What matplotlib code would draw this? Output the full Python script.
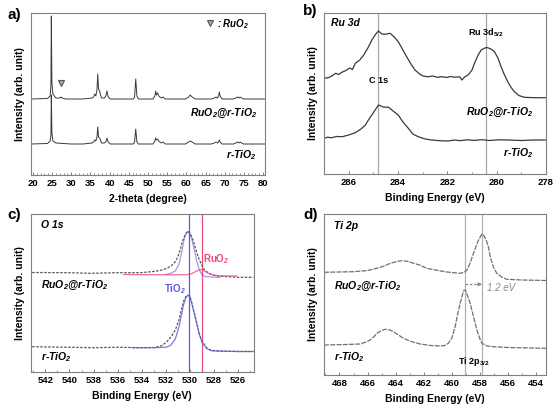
import matplotlib
matplotlib.use("Agg")
import matplotlib.pyplot as plt
from matplotlib.ticker import MultipleLocator

plt.rcParams['font.family'] = ['Liberation Sans', 'DejaVu Sans']
plt.rcParams['font.weight'] = 'bold'
plt.rcParams['mathtext.fontset'] = 'custom'
plt.rcParams['mathtext.rm'] = 'Liberation Sans:bold:italic'
plt.rcParams['mathtext.it'] = 'Liberation Sans:bold:italic'
plt.rcParams['mathtext.bf'] = 'Liberation Sans:bold'

# ---- a) XRD (2-theta, arb. intensity) ----
xrd_ru = [(19.5, 76), (23.8, 76.5), (24.5, 79), (24.7, 90), (24.8, 159), (24.95, 92), (25.2, 81),
          (26.0, 77), (27.0, 77), (27.3, 78), (27.6, 77), (28.5, 76), (33.0, 76), (35.4, 77),
          (35.8, 78), (36.1, 81), (36.4, 79), (36.7, 85), (36.9, 101), (37.1, 86), (37.4, 84),
          (37.6, 80), (37.9, 77), (38.6, 77), (39.0, 79), (39.3, 84), (39.6, 78), (40.2, 76),
          (46.2, 76), (46.5, 78), (46.8, 96), (47.1, 79), (47.5, 76), (51.3, 76), (51.8, 79),
          (52.0, 84), (52.2, 80), (52.5, 82), (52.8, 79), (53.1, 78), (53.5, 77), (53.9, 78),
          (54.5, 76), (59.8, 76), (60.6, 78), (61.0, 80), (61.5, 78), (62.3, 76), (66.5, 76),
          (67.3, 77), (67.7, 78), (68.1, 77), (68.4, 79), (68.6, 83), (68.8, 79), (69.3, 76),
          (72.3, 76), (72.9, 77), (73.3, 78), (73.7, 77), (74.0, 78), (74.4, 77), (74.9, 76),
          (80.5, 76)]
xrd_ti = [(19.5, 31), (23.8, 31.5), (24.5, 34), (24.7, 40), (24.8, 80), (24.95, 42), (25.2, 34),
          (26.0, 32), (30.0, 31), (33.0, 31), (35.4, 32), (35.8, 33), (36.1, 35), (36.4, 34),
          (36.7, 38), (36.9, 48), (37.1, 38), (37.4, 37), (37.6, 35), (37.9, 32), (38.6, 32),
          (39.0, 33), (39.3, 37), (39.6, 33), (40.2, 31), (46.2, 31), (46.5, 33), (46.8, 46),
          (47.1, 33), (47.5, 31), (51.3, 31), (51.8, 34), (52.0, 37), (52.2, 35), (52.5, 36),
          (52.8, 34), (53.1, 33), (53.5, 32), (53.9, 33), (54.5, 31), (59.8, 31), (60.6, 33),
          (61.0, 34), (61.5, 33), (62.3, 31), (66.5, 31), (67.3, 32), (67.7, 33), (68.1, 32),
          (68.4, 33), (68.6, 35), (68.8, 33), (69.3, 31), (72.3, 31), (72.9, 32), (73.3, 33),
          (73.7, 32), (74.0, 33), (74.4, 32), (74.9, 31), (80.5, 31)]
ruo2_mark = (27.3, 92)

# ---- b) Ru 3d ----
ru3d_ru = [(287.0, 95.7), (286.8, 96.5), (286.65, 98.5), (286.53, 100.7), (286.4, 99.5), (286.3, 101.5),
           (286.13, 103.3), (285.95, 106), (285.85, 104.5), (285.73, 110.7), (285.55, 114),
           (285.39, 119), (285.2, 127), (285.06, 134), (284.9, 140), (284.79, 143), (284.65, 140),
           (284.52, 139.7), (284.32, 140.7), (284.15, 137), (283.99, 132.3), (283.8, 124),
           (283.65, 117.3), (283.45, 109), (283.31, 104), (283.1, 99.5), (282.98, 98),
           (282.8, 97.2), (282.6, 98), (282.4, 96.7), (282.24, 97.3), (282.0, 96.5), (281.9, 97.5),
           (281.7, 96.8), (281.5, 97.2), (281.41, 94), (281.3, 97), (281.16, 99), (281.0, 104),
           (280.9, 110.7), (280.75, 119), (280.63, 124), (280.45, 126.3), (280.36, 126.3),
           (280.2, 124.5), (280.09, 122.3), (279.95, 116), (279.82, 107.3), (279.7, 100),
           (279.55, 92.3), (279.4, 86), (279.28, 82.3), (279.1, 78.5), (278.88, 76.7),
           (278.5, 76.3), (278.0, 76.3)]
ru3d_ti = [(287.0, 35.7), (286.85, 36.8), (286.7, 36.2), (286.5, 37.5), (286.26, 37.3), (286.0, 39),
           (285.73, 41.3), (285.5, 45), (285.32, 49), (285.2, 54), (285.06, 59), (284.9, 65),
           (284.79, 69), (284.6, 67), (284.38, 66.7), (284.2, 63), (283.99, 59), (283.8, 52),
           (283.58, 45.7), (283.4, 40), (283.18, 37.3), (282.9, 35), (282.64, 34), (282.3, 33.3),
           (281.97, 33), (281.7, 34), (281.5, 33.3), (281.2, 34.2), (280.9, 33.6), (280.6, 34.3),
           (280.3, 33.5), (279.9, 34.2), (279.55, 34), (279.0, 33.5), (278.5, 34), (278.0, 34)]
c1s_pos = 284.8
ru3d52_pos = 280.45

# ---- c) O 1s ----
o1s_ru = [(543.1, 99.5), (540.0, 99.3), (538.25, 98.7), (536.0, 99.3), (534.1, 99.3), (533.0, 100.5),
          (532.3, 102), (531.9, 103.7), (531.5, 106.5), (531.2, 110.3), (531.0, 115), (530.8, 122),
          (530.6, 131), (530.4, 137), (530.16, 141), (530.0, 139), (529.83, 135.3), (529.6, 127),
          (529.4, 118.7), (529.2, 112), (529.0, 107), (528.8, 102.5), (528.6, 100.3),
          (528.2, 97.5), (527.76, 96), (526.0, 94.7), (524.7, 94.7)]
o1s_ru_tio2 = [(532.0, 97.5), (531.6, 98.5), (531.2, 101), (530.9, 108), (530.7, 118), (530.5, 131),
               (530.3, 139), (530.16, 140.5), (530.0, 138), (529.83, 133), (529.6, 121),
               (529.4, 110), (529.2, 102), (529.0, 97.5), (528.7, 95.5), (528.3, 95),
               (527.5, 94.7)]
o1s_ru_ruo2 = [(535.5, 97.5), (533.0, 97.3), (531.0, 97.2), (530.2, 97.3), (529.8, 98.5),
               (529.5, 100.5), (529.13, 102.5), (528.8, 101.3), (528.5, 99), (528.1, 97),
               (527.5, 96.2), (526.1, 96)]
o1s_ti = [(543.1, 25.3), (540.0, 24.7), (538.0, 24.3), (536.0, 24.7), (534.0, 24.3), (532.9, 24.5),
          (532.3, 26.5), (531.9, 30.3), (531.5, 36), (531.2, 42), (530.9, 52), (530.7, 62),
          (530.5, 71), (530.3, 76), (530.16, 76.7), (530.0, 76), (529.85, 70), (529.6, 58),
          (529.4, 48), (529.2, 38), (529.0, 31), (528.6, 24), (528.2, 21.5), (527.5, 21),
          (526.0, 20.5), (524.7, 20.5)]
o1s_ti_tio2 = [(534.8, 24.3), (533.0, 24.3), (532.0, 24.7), (531.6, 26.5), (531.2, 33), (530.9, 45),
               (530.7, 57), (530.5, 68), (530.3, 75), (530.16, 76.5), (530.0, 75.5),
               (529.85, 69.5), (529.6, 57.5), (529.4, 47.5), (529.2, 37.5), (529.0, 30.5),
               (528.6, 23.5), (528.2, 21.3), (527.5, 20.8), (526.0, 20.5), (524.7, 20.5)]
tio2_pos = 530.1
ruo2_pos = 529.0

# ---- d) Ti 2p ----
ti2p_ru = [(469.1, 102.7), (467.0, 103.3), (466.0, 104.5), (465.34, 106.7), (464.8, 109),
           (464.39, 111.7), (463.9, 113.5), (463.56, 114.3), (463.2, 113.8), (462.85, 112.3),
           (462.3, 110), (461.78, 106.7), (461.0, 104.5), (460.36, 103), (459.41, 101.7),
           (459.1, 103), (458.93, 105), (458.7, 112), (458.46, 121.7), (458.25, 130),
           (458.1, 135), (457.86, 141), (457.7, 139), (457.56, 135), (457.4, 128),
           (457.27, 118.3), (457.05, 108), (456.8, 101.7), (456.4, 97.5), (456.09, 95.7),
           (455.0, 95), (453.3, 94.5)]
ti2p_ti = [(469.1, 30), (467.5, 30.5), (466.53, 31), (466.1, 33), (465.82, 35), (465.5, 39),
           (465.34, 41.7), (465.0, 44.5), (464.75, 45.7), (464.4, 45), (464.16, 43.3),
           (463.8, 40), (463.44, 36.7), (462.9, 33.5), (462.26, 31), (461.5, 29.5),
           (460.84, 29), (460.5, 29.5), (460.25, 31.7), (460.0, 37), (459.77, 48.3),
           (459.6, 60), (459.41, 71.7), (459.25, 80), (459.17, 84.3), (459.05, 85),
           (459.0, 83.3), (458.85, 78), (458.7, 71.7), (458.45, 58), (458.22, 45), (458.0, 36),
           (457.86, 31.7), (457.5, 29), (457.04, 28.3), (456.0, 27.5), (453.3, 26.7)]
ti_pos_ti = 459.05
ti_pos_ru = 457.85
shift_label = '1.2 eV'

W, H = 556, 408
fig = plt.figure(figsize=(W / 100, H / 100), dpi=100)


def box(l, r, t, b):
    return [l / W, 1 - b / H, (r - l) / W, (b - t) / H]


spine_c = '#808080'
curve_c = '#3a3a3a'
lab_kw = dict(fontsize=7.5, fontweight='bold')
it_kw = dict(fontsize=7.5, fontweight='bold', style='italic')


def style(ax, major, minor):
    for s in ax.spines.values():
        s.set_color(spine_c)
        s.set_linewidth(0.8)
    ax.set_yticks([])
    ax.xaxis.set_major_locator(MultipleLocator(major))
    ax.xaxis.set_minor_locator(MultipleLocator(minor))
    ax.tick_params(axis='x', which='major', direction='in', length=2.5, width=0.7,
                   color=spine_c, labelsize=6.8, pad=3)
    ax.tick_params(axis='x', which='minor', direction='in', length=1.5, width=0.6,
                   color=spine_c)
    for t in ax.get_xticklabels():
        t.set_fontweight('bold')
    ax.set_ylabel('Intensity (arb. unit)', labelpad=4, **lab_kw)


def xy(pairs):
    return [p[0] for p in pairs], [p[1] for p in pairs]


# a)
ax = fig.add_axes(box(31, 265, 13, 175))
ax.plot(*xy(xrd_ti), color=curve_c, lw=0.7)
ax.plot(*xy(xrd_ru), color=curve_c, lw=0.7)
ax.plot(*ruo2_mark, marker='v', ms=4.5, color='#555555', mfc='#aaaaaa', mew=0.8)
ax.set_xlim(19.5, 80.5)
ax.set_ylim(0, 162)
style(ax, 5, 1)
ax.set_xlabel('2-theta (degree)', labelpad=4, **lab_kw)
ax.plot(66.2, 152, marker='v', ms=4.5, color='#555555', mfc='#aaaaaa', mew=0.8)
ax.text(68.0, 151, r': RuO$_2$', va='center', ha='left', fontsize=7, fontweight='bold', style='italic')
ax.text(78.5, 62, r'RuO$_2$@r-TiO$_2$', ha='right', va='center', **it_kw)
ax.text(78.5, 20, r'r-TiO$_2$', ha='right', va='center', **it_kw)
fig.text(7 / W, 1 - 15 / H, 'a)', fontsize=11, fontweight='bold', va='center')

# b)
ax = fig.add_axes(box(324, 546, 13, 174))
ax.axvline(c1s_pos, color='#a8a8a8', lw=0.9)
ax.axvline(ru3d52_pos, color='#a8a8a8', lw=0.9)
ax.plot(*xy(ru3d_ti), color=curve_c, lw=0.9)
ax.plot(*xy(ru3d_ru), color=curve_c, lw=0.9)
ax.set_xlim(287, 278)
ax.set_ylim(0, 161)
style(ax, 2, 1)
ax.set_xlabel('Binding Energy (eV)', labelpad=4, **lab_kw)
ax.text(286.7, 151, 'Ru 3d', ha='left', va='center', **it_kw)
ax.text(280.45, 141, r'Ru 3d$_{\mathbf{5/2}}$', ha='center', va='center', fontsize=6.5, fontweight='bold')
ax.text(284.8, 94, 'C 1s', ha='center', va='center', fontsize=6.5, fontweight='bold')
ax.text(278.5, 62, r'RuO$_2$@r-TiO$_2$', ha='right', va='center', **it_kw)
ax.text(278.5, 21, r'r-TiO$_2$', ha='right', va='center', **it_kw)
fig.text(303 / W, 1 - 11 / H, 'b)', fontsize=11, fontweight='bold', va='center')

# c)
blue = '#5a5ae0'
red = '#ee4a78'
ax = fig.add_axes(box(31, 253.5, 214, 372))
ax.axvline(tio2_pos, color=blue, lw=0.9)
ax.axvline(ruo2_pos, color=red, lw=0.9)
ax.plot(*xy(o1s_ti), color='#555555', lw=0.9, ls=(0, (2, 1.2)))
ax.plot(*xy(o1s_ru), color='#555555', lw=0.9, ls=(0, (2, 1.2)))
ax.plot(*xy(o1s_ti_tio2), color=blue, lw=0.9, alpha=0.8)
ax.plot(*xy(o1s_ru_tio2), color=blue, lw=0.9, alpha=0.6)
ax.plot(*xy(o1s_ru_ruo2), color=red, lw=0.9, alpha=0.8)
ax.set_xlim(543.2, 524.7)
ax.set_ylim(0, 158)
style(ax, 2, 1)
ax.set_xlabel('Binding Energy (eV)', labelpad=4, **lab_kw)
ax.text(542.4, 147, 'O 1s', ha='left', va='center', **it_kw)
ax.text(528.9, 113, r'RuO$_2$', ha='left', va='center', color=red, fontsize=7, fontweight='bold')
ax.text(530.3, 83, r'TiO$_2$', ha='right', va='center', color=blue, fontsize=7, fontweight='bold')
ax.text(542.4, 87, r'RuO$_2$@r-TiO$_2$', ha='left', va='center', **it_kw)
ax.text(542.4, 15, r'r-TiO$_2$', ha='left', va='center', **it_kw)
fig.text(7 / W, 1 - 215 / H, 'c)', fontsize=11, fontweight='bold', va='center')

# d)
gray = '#8a8a8a'
ax = fig.add_axes(box(324, 546, 214, 375))
ax.axvline(ti_pos_ti, color='#b0b0b0', lw=0.9)
ax.axvline(ti_pos_ru, color='#b0b0b0', lw=0.9)
ax.plot(*xy(ti2p_ti), color='#707070', lw=0.9, ls=(0, (4, 1)))
ax.plot(*xy(ti2p_ru), color='#707070', lw=0.9, ls=(0, (4, 1)))
ax.plot([ti_pos_ti, ti_pos_ru], [90.7, 90.7], color=gray, lw=0.9, ls=(0, (2, 1.5)))
ax.annotate('', xy=(ti_pos_ru, 90.7), xytext=(ti_pos_ru + 0.3, 90.7),
            arrowprops=dict(arrowstyle='-|>', color=gray, lw=0.8, mutation_scale=5,
                            shrinkA=0, shrinkB=0))
ax.text(457.5, 87, shift_label, ha='left', va='center', color=gray, fontsize=7, style='italic',
        fontweight='normal')
ax.set_xlim(469.1, 453.3)
ax.set_ylim(0, 161)
style(ax, 2, 1)
ax.set_xlabel('Binding Energy (eV)', labelpad=4, **lab_kw)
ax.text(468.4, 149, 'Ti 2p', ha='left', va='center', **it_kw)
ax.text(468.4, 89, r'RuO$_2$@r-TiO$_2$', ha='left', va='center', **it_kw)
ax.text(468.4, 18, r'r-TiO$_2$', ha='left', va='center', **it_kw)
ax.text(458.45, 14, r'Ti 2p$_{\mathbf{3/2}}$', ha='center', va='center', fontsize=6.5, fontweight='bold')
fig.text(303 / W, 1 - 215 / H, 'd)', fontsize=11, fontweight='bold', va='center')

fig.savefig('out.png', dpi=100)
